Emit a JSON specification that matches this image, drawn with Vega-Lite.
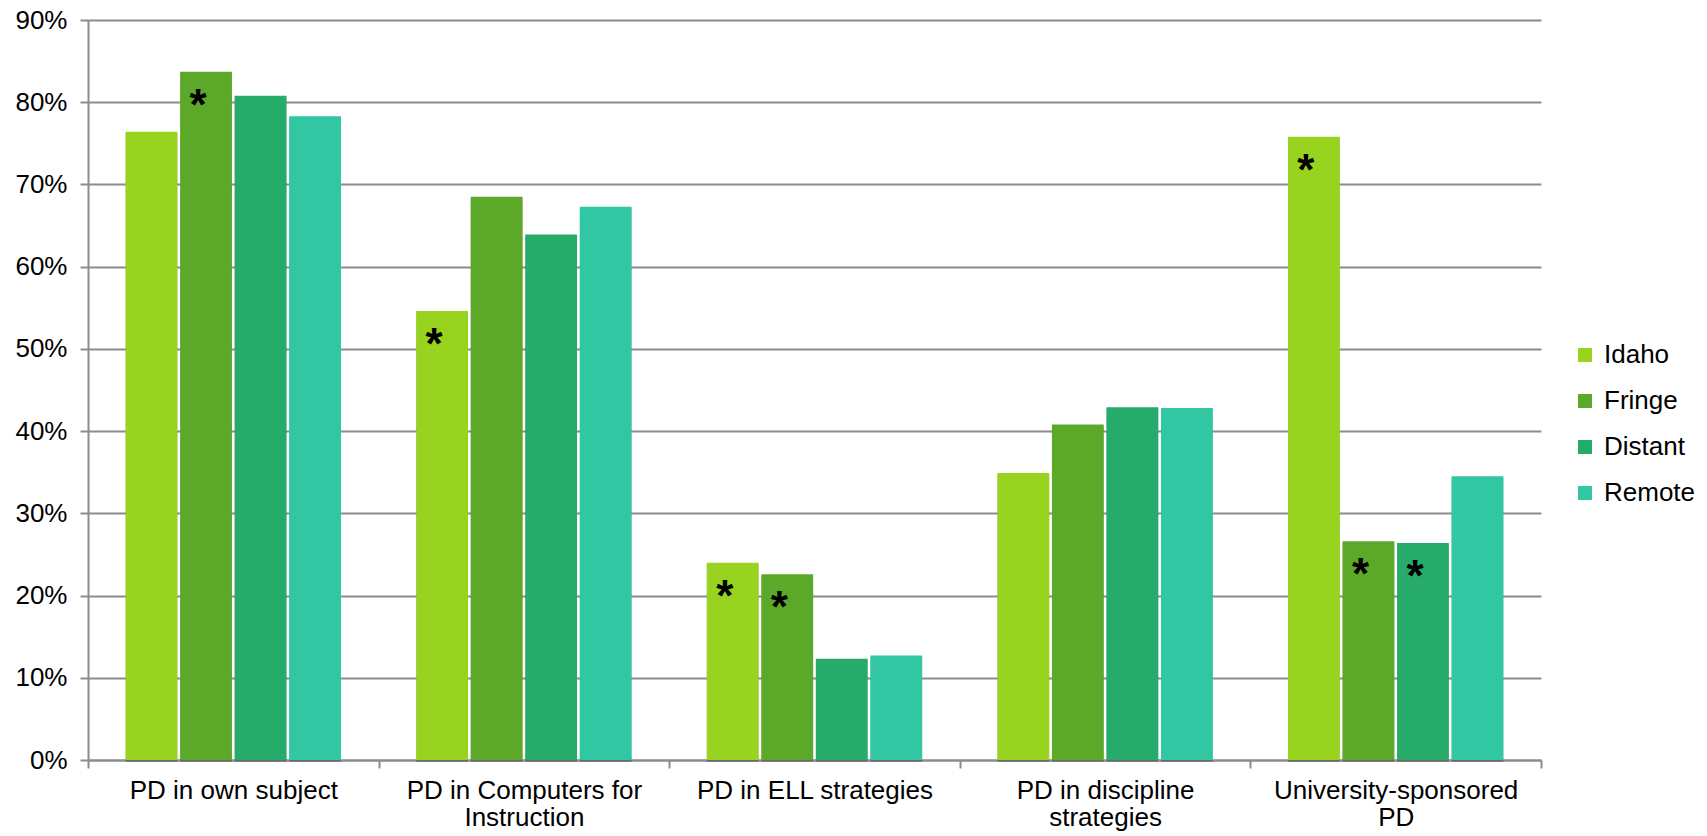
{
  "$schema": "https://vega.github.io/schema/vega-lite/v6.json",
  "width": 1453,
  "height": 740,
  "autosize": {"type": "none"},
  "padding": {"left": 88, "top": 20, "right": 166, "bottom": 76},
  "background": "white",
  "config": {
    "font": "Liberation Sans",
    "view": {"stroke": null}
  },
  "data": {
    "values": [
      {"category": "PD in own subject", "series": "Idaho", "value": 0.764, "note": ""},
      {"category": "PD in own subject", "series": "Fringe", "value": 0.837, "note": "*"},
      {"category": "PD in own subject", "series": "Distant", "value": 0.808, "note": ""},
      {"category": "PD in own subject", "series": "Remote", "value": 0.783, "note": ""},
      {"category": "PD in Computers for Instruction", "series": "Idaho", "value": 0.546, "note": "*"},
      {"category": "PD in Computers for Instruction", "series": "Fringe", "value": 0.685, "note": ""},
      {"category": "PD in Computers for Instruction", "series": "Distant", "value": 0.639, "note": ""},
      {"category": "PD in Computers for Instruction", "series": "Remote", "value": 0.673, "note": ""},
      {"category": "PD in ELL strategies", "series": "Idaho", "value": 0.240, "note": "*"},
      {"category": "PD in ELL strategies", "series": "Fringe", "value": 0.226, "note": "*"},
      {"category": "PD in ELL strategies", "series": "Distant", "value": 0.123, "note": ""},
      {"category": "PD in ELL strategies", "series": "Remote", "value": 0.127, "note": ""},
      {"category": "PD in discipline strategies", "series": "Idaho", "value": 0.349, "note": ""},
      {"category": "PD in discipline strategies", "series": "Fringe", "value": 0.408, "note": ""},
      {"category": "PD in discipline strategies", "series": "Distant", "value": 0.429, "note": ""},
      {"category": "PD in discipline strategies", "series": "Remote", "value": 0.428, "note": ""},
      {"category": "University-sponsored PD", "series": "Idaho", "value": 0.758, "note": "*"},
      {"category": "University-sponsored PD", "series": "Fringe", "value": 0.266, "note": "*"},
      {"category": "University-sponsored PD", "series": "Distant", "value": 0.264, "note": "*"},
      {"category": "University-sponsored PD", "series": "Remote", "value": 0.345, "note": ""}
    ]
  },
  "encoding": {
    "x": {
      "field": "category",
      "type": "nominal",
      "sort": ["PD in own subject", "PD in Computers for Instruction", "PD in ELL strategies", "PD in discipline strategies", "University-sponsored PD"],
      "scale": {"paddingInner": 0, "paddingOuter": 0},
      "axis": {
        "title": null,
        "labelAngle": 0,
        "labelFontSize": 26,
        "labelColor": "#000000",
        "labelLimit": 0,
        "labelPadding": 9,
        "labelLineHeight": 27,
        "labelBaseline": "top",
        "labelExpr": "datum.label == 'PD in Computers for Instruction' ? ['PD in Computers for', 'Instruction'] : datum.label == 'PD in discipline strategies' ? ['PD in discipline', 'strategies'] : datum.label == 'University-sponsored PD' ? ['University-sponsored', 'PD'] : datum.label",
        "tickBand": "extent",
        "tickSize": 8,
        "tickColor": "#8c8c8c",
        "tickWidth": 2,
        "domainColor": "#8c8c8c",
        "domainWidth": 2,
        "grid": false
      }
    },
    "xOffset": {
      "field": "series",
      "type": "nominal",
      "sort": ["Idaho", "Fringe", "Distant", "Remote"],
      "scale": {"paddingInner": 0.05, "paddingOuter": 0.69}
    },
    "y": {
      "field": "value",
      "type": "quantitative",
      "scale": {"domain": [0, 0.9], "nice": false},
      "axis": {
        "title": null,
        "values": [0, 0.1, 0.2, 0.3, 0.4, 0.5, 0.6, 0.7, 0.8, 0.9],
        "format": ".0%",
        "labelFontSize": 26,
        "labelColor": "#000000",
        "labelPadding": 13,
        "tickSize": 8,
        "tickColor": "#8c8c8c",
        "tickWidth": 2,
        "domainColor": "#8c8c8c",
        "domainWidth": 2,
        "grid": true,
        "gridColor": "#8c8c8c",
        "gridWidth": 2
      }
    }
  },
  "layer": [
    {
      "mark": {"type": "bar", "color": "#000000", "opacity": 0.25, "xOffset": 3, "yOffset": 2},
      "encoding": {}
    },
    {
      "mark": {"type": "bar"},
      "encoding": {
        "color": {
          "field": "series",
          "type": "nominal",
          "sort": ["Idaho", "Fringe", "Distant", "Remote"],
          "scale": {
            "domain": ["Idaho", "Fringe", "Distant", "Remote"],
            "range": ["#98D31F", "#5CA92A", "#27AB6A", "#31C7A3"]
          },
          "legend": {
            "title": null,
            "orient": "none",
            "legendX": 1484,
            "legendY": 322,
            "symbolType": "square",
            "symbolSize": 196,
            "symbolStrokeWidth": 0,
            "labelFontSize": 26,
            "labelColor": "#000000",
            "labelOffset": 6,
            "rowPadding": 20
          }
        }
      }
    },
    {
      "mark": {"type": "text", "fontSize": 44, "fontWeight": "bold", "baseline": "alphabetic", "align": "center", "dx": -8, "dy": 48, "color": "#000000"},
      "encoding": {
        "text": {"field": "note", "type": "nominal"}
      }
    }
  ]
}
